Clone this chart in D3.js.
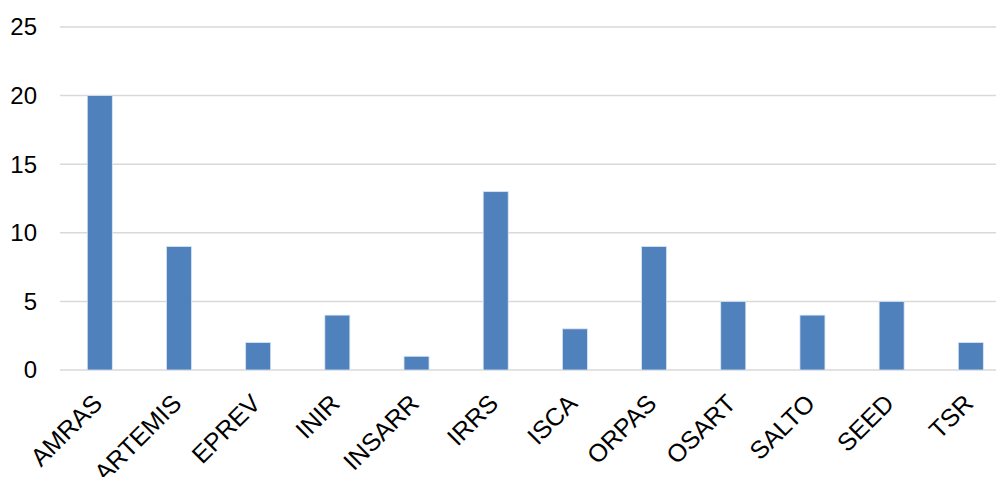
<!DOCTYPE html>
<html>
<head>
<meta charset="utf-8">
<script src="https://cdn.jsdelivr.net/npm/d3@7"></script>
<style>
  body { margin: 0; background: #fff; }
  svg text { font-family: "Liberation Sans", Arial, sans-serif; fill: #000; }
</style>
</head>
<body>
<svg id="chart" width="996" height="477"></svg>
<script>
// Review counts per mission type
const categories = ["AMRAS", "ARTEMIS", "EPREV", "INIR", "INSARR", "IRRS", "ISCA", "ORPAS", "OSART", "SALTO", "SEED", "TSR"];
const values = [20, 9, 2, 4, 1, 13, 3, 9, 5, 4, 5, 2];
const yTicks = [0, 5, 10, 15, 20, 25];

const svg = d3.select("#chart");
const plotLeft = 60, plotRight = 996, plotTop = 27, plotBottom = 370;

const x = d3.scaleBand()
  .domain(categories)
  .range([60.2, 1010.4])
  .paddingInner(0.684)
  .paddingOuter(0.342);

const y = d3.scaleLinear().domain([0, 25]).range([plotBottom, plotTop]);

// horizontal gridlines
svg.append("g")
  .selectAll("line")
  .data(yTicks)
  .join("line")
  .attr("x1", plotLeft)
  .attr("x2", plotRight)
  .attr("y1", d => y(d))
  .attr("y2", d => y(d))
  .attr("stroke", "#d9d9d9")
  .attr("stroke-width", 1.5);

// y-axis labels
svg.append("g")
  .selectAll("text")
  .data(yTicks)
  .join("text")
  .attr("x", 37)
  .attr("y", d => y(d))
  .attr("dy", "0.35em")
  .attr("text-anchor", "end")
  .attr("font-size", 24)
  .text(d => d);

// bars
svg.append("g")
  .selectAll("rect")
  .data(categories)
  .join("rect")
  .attr("x", d => x(d))
  .attr("width", x.bandwidth())
  .attr("y", (d, i) => y(values[i]))
  .attr("height", (d, i) => y(0) - y(values[i]))
  .attr("fill", "#4f81bd")
  .attr("stroke", "#dbe5f1")
  .attr("stroke-width", 0.8);

// rotated category labels
svg.append("g")
  .selectAll("text")
  .data(categories)
  .join("text")
  .attr("transform", d => `translate(${x(d) + x.bandwidth() / 2 + 4},405) rotate(-45)`)
  .attr("text-anchor", "end")
  .attr("font-size", 25)
  .text(d => d);
</script>
</body>
</html>
